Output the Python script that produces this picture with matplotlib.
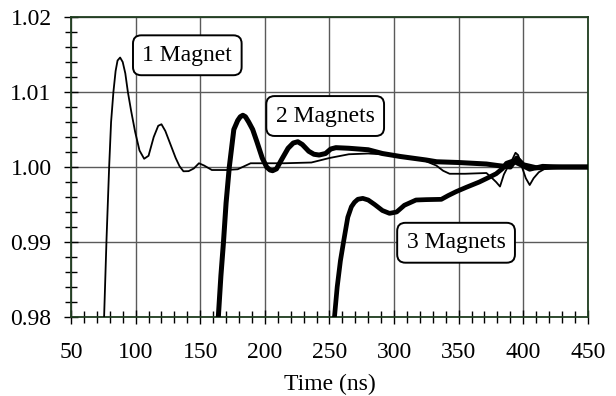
import numpy as np
import matplotlib
matplotlib.use("Agg")
import matplotlib.pyplot as plt
from matplotlib.ticker import MultipleLocator

# 1 Magnet (thin)
t1 = [75.6, 77.5, 79.5, 81.0, 82.8, 84.5, 86.0, 88.0, 90.0, 92.0, 94.0, 96.5, 99.6, 103.0, 106.6, 110.0,
      114.0, 117.5, 120.0, 123.0, 127.0, 131.0, 134.0, 137.0, 141.0, 145.0, 149.0, 153.0, 159.0,
      170.0, 179.0, 189.0, 200.0, 215.0, 236.0, 250.0, 265.0, 280.0, 300.0, 320.0, 332.7, 338.0,
      343.0, 355.0, 371.5, 376.0, 379.0, 382.0, 385.0, 388.0, 391.0, 394.0, 396.0, 399.0, 402.0,
      405.0, 408.0, 412.0, 418.0, 430.0, 450.0]
v1 = [0.980, 0.9905, 1.0000, 1.0060, 1.0100, 1.0128, 1.0142, 1.0146, 1.0140, 1.0125, 1.0100, 1.0075,
      1.0047, 1.0022, 1.0011, 1.0015, 1.0040, 1.0055, 1.0057, 1.0048, 1.0030, 1.0012, 1.0001, 0.99943,
      0.99945, 0.9998, 1.0005, 1.0002, 0.9996, 0.9996, 0.9997, 1.0005, 1.0005, 1.0005, 1.0006, 1.0012,
      1.0017, 1.0018, 1.0016, 1.0011, 1.0002, 0.9995, 0.9991, 0.9991, 0.9992, 0.9985, 0.9980, 0.9974,
      0.9990, 1.0000, 1.0008, 1.0019, 1.0016, 1.0000, 0.9985, 0.9976, 0.9985, 0.9993, 0.9999, 1.0000,
      1.0000]

# 2 Magnets (thick)
t2 = [164.0, 166.0, 168.0, 170.0, 172.5, 176.0, 179.0, 181.0, 183.0, 185.0, 187.5, 190.6, 194.0, 198.0,
      201.4, 204.0, 206.0, 209.0, 213.0, 218.0, 222.0, 225.5, 229.0, 234.0, 238.0, 242.0, 247.0,
      251.0, 255.0, 265.0, 280.0, 291.0, 305.0, 325.0, 333.0, 350.0, 371.5, 380.0, 390.0, 395.0,
      400.0, 410.0, 430.0, 450.0]
v2 = [0.980, 0.9855, 0.9900, 0.9952, 1.0000, 1.0050, 1.0062, 1.0067, 1.0069, 1.0067, 1.0060, 1.0050,
      1.0033, 1.0012, 1.0000, 0.99960, 0.99951, 0.99975, 1.0010, 1.0025, 1.0032, 1.00337, 1.0030, 1.0021,
      1.0017, 1.0016, 1.0018, 1.0024, 1.00258, 1.0025, 1.0023, 1.0018, 1.0014, 1.00093, 1.0007, 1.0006,
      1.0004, 1.0002, 1.0000, 1.0012, 1.0003, 0.9999, 1.0000, 1.0000]

# 3 Magnets (thick)
t3 = [253.9, 256.0, 258.5, 260.9, 264.2, 267.0, 269.4, 272.0, 275.8, 280.0, 285.0, 291.0, 296.5,
      302.0, 308.0, 317.0, 325.0, 336.6, 342.0, 348.0, 356.0, 366.0, 372.0, 379.0, 384.0, 387.0,
      392.0, 398.0, 405.0, 415.0, 430.0, 450.0]
v3 = [0.980, 0.9840, 0.9875, 0.9900, 0.9933, 0.9947, 0.9953, 0.9957, 0.99582, 0.9956, 0.9950, 0.99420,
      0.99382, 0.9940, 0.9949, 0.9956, 0.99565, 0.99569, 0.9962, 0.99671, 0.9973, 0.9980, 0.9985,
      0.9991, 0.9998, 1.0005, 1.0008, 1.0003, 0.9997, 1.0001, 1.0000, 1.0000]

labels = ["1 Magnet", "2 Magnets", "3 Magnets"]
label_pos = [(140, 1.0149), (246.7, 1.0068), (348, 0.9899)]

plt.rcParams["font.family"] = ["Liberation Serif", "DejaVu Serif"]
fig = plt.figure(figsize=(6.16, 3.96), dpi=100)
ax = fig.add_axes([0.1153, 0.1995, 0.839, 0.7575])

ax.plot(t1, v1, color="black", lw=1.3, zorder=3)
ax.plot(t2, v2, color="black", lw=3.6, zorder=3)
ax.plot(t3, v3, color="black", lw=3.4, zorder=3)

for txt, (x, y) in zip(labels, label_pos):
    ax.text(x, y, txt, fontsize=17, ha="center", va="center", zorder=5,
            bbox=dict(boxstyle="round,pad=0.4,rounding_size=0.35", fc="white", ec="black", lw=1.4))

ax.set_xlim(50, 450)
ax.set_ylim(0.98, 1.02)
ax.xaxis.set_major_locator(MultipleLocator(50))
ax.xaxis.set_minor_locator(MultipleLocator(10))
ax.yaxis.set_major_locator(MultipleLocator(0.01))
ax.yaxis.set_minor_locator(MultipleLocator(0.002))
ax.yaxis.set_major_formatter(plt.FormatStrFormatter("%.2f"))
ax.grid(True, which="major", color="#5a5a5a", lw=1.0, zorder=1)
ax.tick_params(which="both", direction="inout", labelsize=17, color="black")
ax.tick_params(which="major", length=10, width=1)
ax.tick_params(which="minor", length=9, width=1)
ax.tick_params(axis="x", pad=13)
ax.tick_params(axis="y", pad=9)
for s in ax.spines.values():
    s.set_color("#1f3d1f")
    s.set_linewidth(1.3)
ax.set_xlabel("Time (ns)", fontsize=17, labelpad=8)

fig.savefig("out.png", dpi=100)
